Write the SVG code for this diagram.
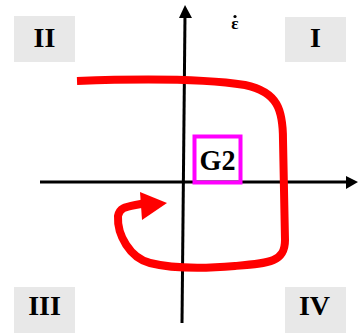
<svg xmlns="http://www.w3.org/2000/svg" width="358" height="335" viewBox="0 0 358 335">
<style>
.q{fill:#e8e8e8}
.t{font-family:"Liberation Serif",serif;font-weight:bold;fill:#000;text-anchor:middle}
.ax{stroke:#000;stroke-width:3;fill:none}
</style>
<rect width="358" height="335" fill="#fff"/>
<g id="q2"><rect class="q" x="14" y="16" width="61" height="46"/><text class="t" x="44.5" y="47" font-size="28">II</text></g>
<g id="q1"><rect class="q" x="285" y="17" width="61" height="45"/><text class="t" x="315.5" y="47" font-size="28">I</text></g>
<g id="q3"><rect class="q" x="14" y="287" width="61" height="46"/><text class="t" x="44.5" y="315" font-size="28">III</text></g>
<g id="q4"><rect class="q" x="285" y="287" width="61" height="46"/><text class="t" x="314.5" y="315" font-size="28">IV</text></g>
<g id="axes">
<line class="ax" x1="182" y1="323" x2="185" y2="15"/>
<polygon points="185,5 179,18 192,18" fill="#000"/>
<line class="ax" x1="40" y1="182" x2="348" y2="182"/>
<polygon points="358,182 346,176 346,189" fill="#000"/>
</g>
<g id="label"><text class="t" x="235" y="29" font-size="17">ε</text><circle cx="235" cy="16.5" r="1.6" fill="#000"/></g>
<g id="curve">
<path d="M77,81 C130,79 200,78 245,85 C278,92 283,110 283,140 L285,240 C285,262 270,263 235,266 C200,269 170,268 150,263 C130,258 117,235 118,216 C120,206 128,207 145,203" fill="none" stroke="#ff0000" stroke-width="8" stroke-linecap="butt"/>
<polygon points="140,192 167,203 142,220" fill="#ff0000"/>
</g>
<g id="G2"><rect x="194.5" y="136.5" width="46" height="46" fill="none" stroke="#ff00ff" stroke-width="4"/><text class="t" x="217.5" y="170" font-size="30" textLength="36" lengthAdjust="spacingAndGlyphs">G2</text></g>
</svg>
